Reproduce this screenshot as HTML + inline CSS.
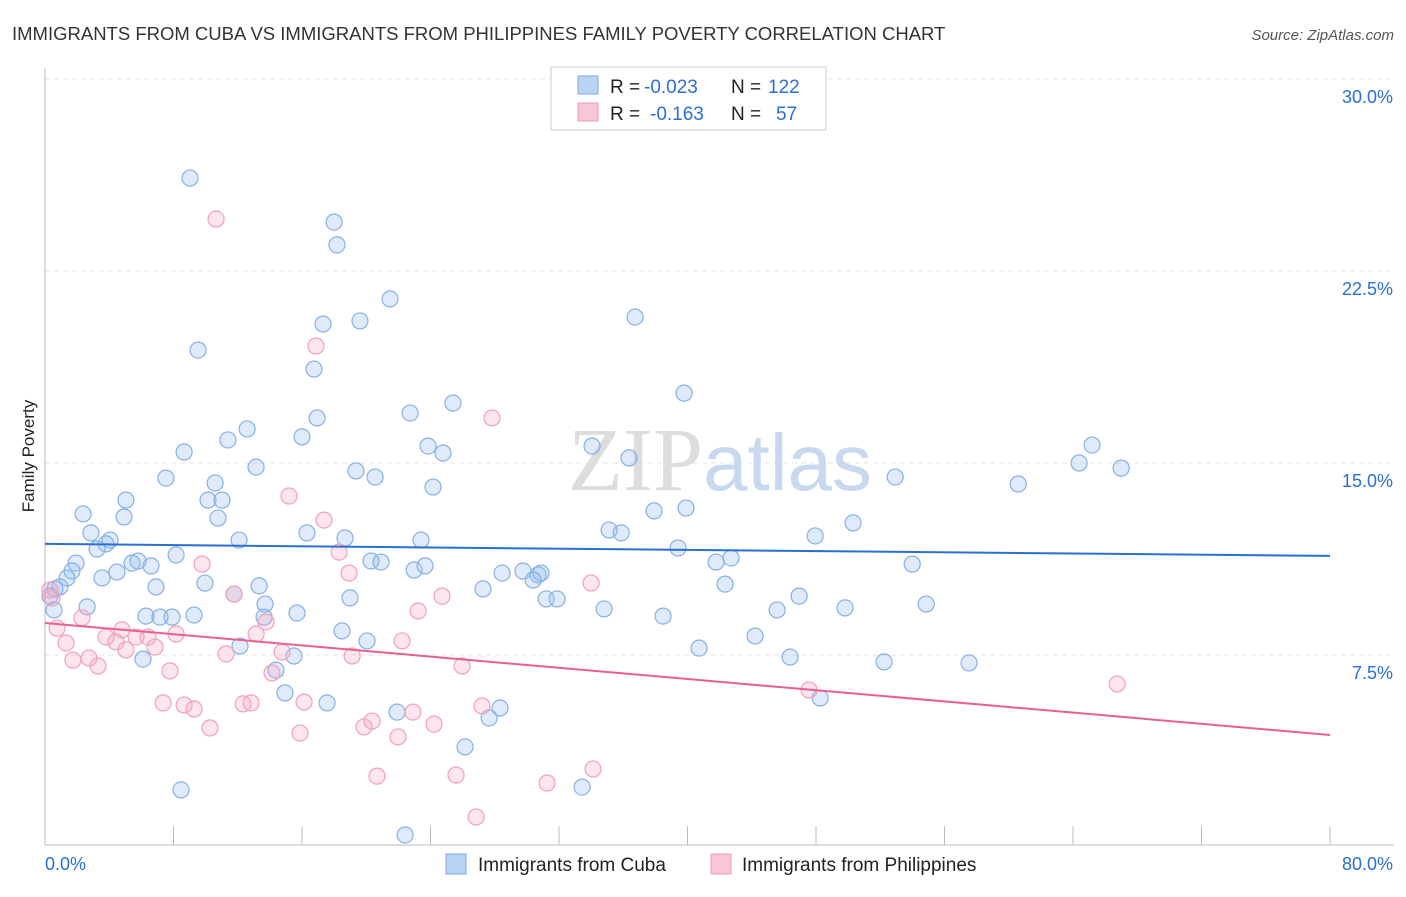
<!DOCTYPE html>
<html><head><meta charset="utf-8"><style>
body{margin:0;background:#fff;font-family:"Liberation Sans",sans-serif;}
</style></head><body>
<svg id="chart" width="1406" height="892" xmlns="http://www.w3.org/2000/svg" font-family="Liberation Sans, sans-serif">
<text x="12" y="40" font-size="18.5" fill="#333">IMMIGRANTS FROM CUBA VS IMMIGRANTS FROM PHILIPPINES FAMILY POVERTY CORRELATION CHART</text>
<text x="1394" y="40" font-size="15" fill="#555" text-anchor="end" font-style="italic">Source: ZipAtlas.com</text>
<text transform="translate(34,456) rotate(-90)" font-size="17" fill="#222" text-anchor="middle">Family Poverty</text>
<g id="grid"></g>
<text x="720" y="490" font-size="90" text-anchor="middle" fill="#ddd" font-family="Liberation Serif, serif">ZIP<tspan fill="#c8d8ee" font-family="Liberation Sans, sans-serif" font-size="80">atlas</tspan></text>
<g id="marks"></g>
<g>
<rect x="551" y="67" width="275" height="63" fill="#fff" stroke="#ccc"/>
<rect x="578" y="76" width="20" height="18" fill="#b9d3f5" stroke="#7ea9e0"/>
<rect x="578" y="103" width="20" height="18" fill="#f8c6d6" stroke="#ef9ab7"/>
<text x="610" y="93" font-size="19" fill="#222">R =</text>
<text x="644" y="93" font-size="19" fill="#2a6fd4">-0.023</text>
<text x="731" y="93" font-size="19" fill="#222">N =</text>
<text x="768" y="93" font-size="19" fill="#2a6fd4">122</text>
<text x="610" y="120" font-size="19" fill="#222">R =</text>
<text x="650" y="120" font-size="19" fill="#2a6fd4">-0.163</text>
<text x="731" y="120" font-size="19" fill="#222">N =</text>
<text x="776" y="120" font-size="19" fill="#2a6fd4">57</text>
</g>
<g>
<rect x="446" y="854" width="20" height="20" fill="#b9d3f5" stroke="#7ea9e0"/>
<text x="478" y="871" font-size="19" fill="#222">Immigrants from Cuba</text>
<rect x="711" y="854" width="20" height="20" fill="#f8c6d6" stroke="#ef9ab7"/>
<text x="742" y="871" font-size="19" fill="#222">Immigrants from Philippines</text>
</g>
</svg>
<script>
const yTicks=[7.5,15,22.5,30];
const yTickLabels=["7.5%","15.0%","22.5%","30.0%"];
const xTicks=[0,8,16,24,32,40,48,56,64,72,80];
const cubaX=[9.03,18.0,18.18,21.48,17.31,19.61,36.74,9.53,16.75,39.79,25.40,22.73,16.94,12.58,11.39,16.00,23.85,24.78,34.06,8.66,13.14,19.36,20.55,7.53,10.59,24.16,36.36,65.19,64.38,67.0,60.59,52.93,5.04,10.15,11.02,2.37,4.92,10.77,37.92,39.91,50.31,35.12,35.87,16.31,18.68,2.86,12.08,23.41,47.95,4.05,3.80,3.24,39.41,1.93,5.42,5.79,6.60,8.16,20.30,20.92,41.78,42.71,53.99,1.68,1.37,4.48,3.55,22.98,23.66,28.46,29.76,30.70,30.88,30.39,0.62,0.93,6.91,9.96,11.77,13.33,27.27,42.34,31.20,31.88,18.99,2.62,13.70,15.69,34.81,38.48,46.95,45.58,49.81,54.86,6.29,7.91,7.16,9.28,13.64,18.49,20.05,12.14,44.21,40.72,6.10,15.50,46.39,52.24,57.53,14.94,17.56,21.92,28.33,27.65,48.26,26.15,8.47,33.44,22.42,14.38,0.31,0.56];
const cubaY=[26.13,24.41,23.52,21.41,20.43,20.55,20.70,19.41,18.67,17.73,17.34,16.95,16.76,16.33,15.90,16.02,15.66,15.39,15.66,15.43,14.84,14.69,14.45,14.41,14.22,14.06,15.20,15.70,15.00,14.80,14.18,14.45,13.55,13.55,13.55,13.01,12.89,12.85,13.13,13.24,12.66,12.38,12.27,12.27,12.07,12.27,11.99,11.99,12.15,11.99,11.84,11.64,11.68,11.09,11.09,11.17,10.98,11.41,11.17,11.13,11.13,11.29,11.05,10.78,10.51,10.74,10.51,10.82,10.98,10.70,10.78,10.63,10.70,10.43,10.08,10.16,10.16,10.31,9.88,10.20,10.08,10.27,9.69,9.69,9.73,9.38,9.49,9.14,9.30,9.02,9.80,9.26,9.34,9.49,9.02,8.98,8.98,9.06,8.98,8.44,8.05,7.85,8.24,7.77,7.34,7.46,7.42,7.23,7.19,6.02,5.63,5.27,5.43,5.04,5.82,3.91,2.23,2.34,0.47,6.91,9.80,9.26];
const philX=[10.65,16.87,27.83,15.19,17.37,18.31,9.78,18.93,11.77,34.0,24.72,23.23,0.31,0.44,0.75,2.30,4.79,1.31,3.80,4.42,5.67,6.41,8.16,13.14,13.76,22.23,1.74,2.74,3.30,5.04,6.85,7.78,11.27,14.76,19.12,25.97,14.13,7.35,8.66,9.28,12.33,12.83,16.13,10.27,15.88,20.36,19.86,22.91,24.22,21.98,27.21,47.57,66.75,20.67,25.59,31.26,34.12,26.84];
const philY=[24.53,19.57,16.76,13.71,12.77,11.52,11.05,10.70,9.88,10.31,9.80,9.22,10.04,9.73,8.55,8.95,8.48,7.97,8.20,8.01,8.20,8.20,8.32,8.32,8.79,8.05,7.30,7.38,7.07,7.70,7.81,6.88,7.54,7.62,7.46,7.07,6.80,5.63,5.55,5.39,5.59,5.63,5.66,4.65,4.45,4.92,4.69,5.27,4.80,4.30,5.51,6.13,6.37,2.77,2.81,2.50,3.05,1.17];
const cubaTrend=[11.84,11.37];
const philTrend=[8.75,4.375];
const NS="http://www.w3.org/2000/svg";
const X=v=>45+v/80*1285, Y=v=>847-v/30*768;
function mk(t,a,p){const e=document.createElementNS(NS,t);for(const k in a)e.setAttribute(k,a[k]);p.appendChild(e);return e;}
const g=document.getElementById('grid'),m=document.getElementById('marks');
yTicks.forEach((t,i)=>{
 const l=mk('line',{x1:45,x2:1394,y1:Y(t),y2:Y(t),stroke:'#e4e4e4','stroke-dasharray':'5,4'},g);
 
 
 const tx=mk('text',{x:1393,y:Y(t)+24,'font-size':18,fill:'#2a6fd4','text-anchor':'end'},g);
 tx.textContent=yTickLabels[i];
 
 
});
const ax=mk('line',{x1:45,x2:45,y1:68,y2:845,stroke:'#bbb'},g);


const bx=mk('line',{x1:45,x2:1394,y1:845,y2:845,stroke:'#bbb'},g);


xTicks.forEach(t=>{
 const l=mk('line',{x1:X(t),x2:X(t),y1:826,y2:845,stroke:'#bbb'},g);
 
 
});
const xl0=mk('text',{x:45,y:870,'font-size':18,fill:'#2a6fd4'},g);xl0.textContent='0.0%';


const xl1=mk('text',{x:1393,y:870,'font-size':18,fill:'#2a6fd4','text-anchor':'end'},g);xl1.textContent='80.0%';


cubaX.forEach((v,i)=>{
 const c=mk('circle',{cx:X(v),cy:Y(cubaY[i]),r:8,fill:'rgba(150,190,240,0.3)',stroke:'#86b0e6','stroke-width':1.2},m);
 
 
});
philX.forEach((v,i)=>{
 const c=mk('circle',{cx:X(v),cy:Y(philY[i]),r:8,fill:'rgba(245,170,195,0.3)',stroke:'#f0a0bb','stroke-width':1.2},m);
 
 
});
const t1=mk('line',{x1:X(0),x2:X(80),y1:Y(cubaTrend[0]),y2:Y(cubaTrend[1]),stroke:'#2a6fd4','stroke-width':2},m);


const t2=mk('line',{x1:X(0),x2:X(80),y1:Y(philTrend[0]),y2:Y(philTrend[1]),stroke:'#e8608f','stroke-width':2},m);


</script>
</body></html>
